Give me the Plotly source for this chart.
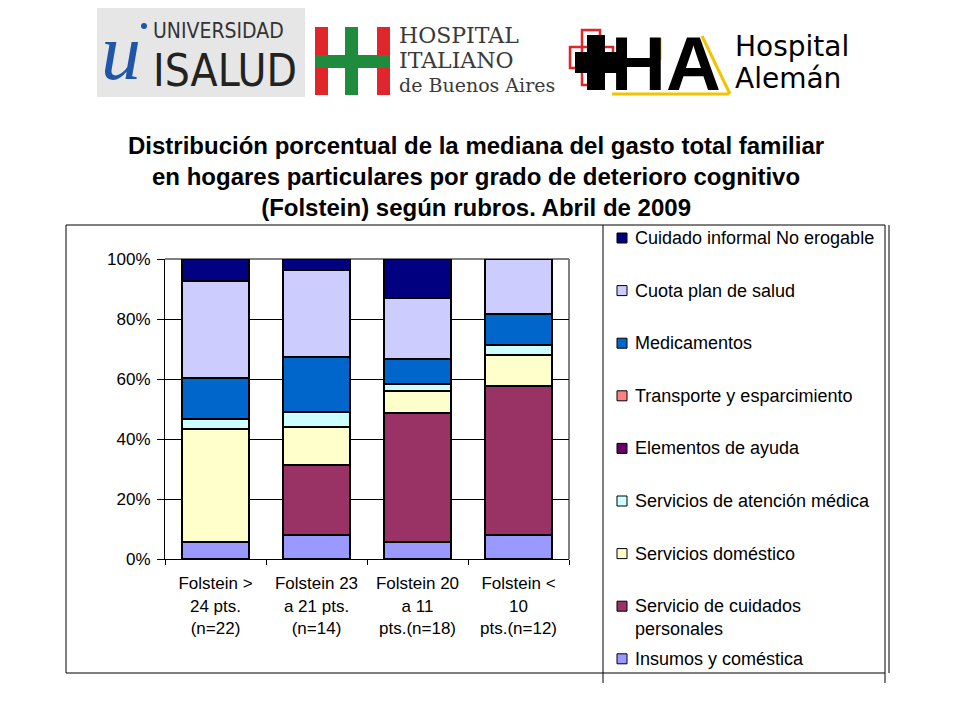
import plotly.graph_objects as go

# ---------------- data ----------------
categories = [
    "Folstein &gt;<br>24 pts.<br>(n=22)",
    "Folstein 23<br>a 21 pts.<br>(n=14)",
    "Folstein 20<br>a 11<br>pts.(n=18)",
    "Folstein &lt;<br>10<br>pts.(n=12)",
]
# stacked bottom -> top
insumos = [5.8, 8.1, 5.8, 8.1]
cuidados_personales = [0.0, 23.3, 43.0, 49.6]
servicios_domestico = [37.5, 12.7, 7.2, 10.3]
atencion_medica = [3.4, 4.8, 2.4, 3.4]
elementos_ayuda = [0.0, 0.0, 0.0, 0.0]
transporte = [0.0, 0.0, 0.0, 0.0]
medicamentos = [13.7, 18.6, 8.4, 10.2]
cuota_plan = [32.4, 28.7, 20.3, 18.4]
cuidado_informal = [7.2, 3.8, 12.9, 0.0]

series_names = [
    "Insumos y coméstica",
    "Servicio de cuidados<br>personales",
    "Servicios doméstico",
    "Servicios de atención médica",
    "Elementos de ayuda",
    "Transporte y esparcimiento",
    "Medicamentos",
    "Cuota plan de salud",
    "Cuidado informal No erogable",
]
series_values = [insumos, cuidados_personales, servicios_domestico, atencion_medica,
                 elementos_ayuda, transporte, medicamentos, cuota_plan, cuidado_informal]
series_colors = ["#9999FF", "#993366", "#FFFFCC", "#CCFFFF", "#660066",
                 "#FF8080", "#0066CC", "#CCCCFF", "#000080"]

y_tick_vals = [0, 20, 40, 60, 80, 100]
y_tick_text = ["0%", "20%", "40%", "60%", "80%", "100%"]

title_text = ("<b>Distribución porcentual de la mediana del gasto total familiar<br>"
              "en hogares particulares por grado de deterioro cognitivo<br>"
              "(Folstein) según rubros. Abril de 2009</b>")

# ---------------- layout helpers ----------------
OFF = 8                      # page body margin
W, H = 960 - OFF, 720 - OFF  # figure size
L, R, T, B = 165, 569, 259, 559   # plot area in window pixels
FONT = "Liberation Sans, Arial, sans-serif"
COND = "DejaVu Sans Condensed, Liberation Sans Narrow, Arial Narrow, sans-serif"
SERIF = "DejaVu Serif, serif"


def px(x):
    return (x - L) / (R - L)


def py(y):
    return (B - y) / (B - T)


fig = go.Figure()
for name, vals, col in zip(series_names, series_values, series_colors):
    fig.add_bar(x=categories, y=vals, name=name.replace("<br>", " "),
                marker=dict(color=col, line=dict(color="black", width=2)),
                showlegend=False)

shapes = []
annotations = []


def rect(x0, y0, x1, y1, fill=None, line=None, lw=0, layer="above"):
    shapes.append(dict(type="rect", xref="paper", yref="paper",
                       x0=px(x0), x1=px(x1), y0=py(y1), y1=py(y0),
                       fillcolor=fill if fill else "rgba(0,0,0,0)",
                       line=dict(color=line if line else "rgba(0,0,0,0)", width=lw),
                       layer=layer))


def seg(x0, y0, x1, y1, color="black", w=1, layer="above"):
    shapes.append(dict(type="line", xref="paper", yref="paper",
                       x0=px(x0), x1=px(x1), y0=py(y0), y1=py(y1),
                       line=dict(color=color, width=w), layer=layer))


def text(x, y, s, size, color="black", family=FONT, xanchor="left", yanchor="middle", align="left"):
    annotations.append(dict(xref="paper", yref="paper", x=px(x), y=py(y), text=s,
                            showarrow=False, xanchor=xanchor, yanchor=yanchor, align=align,
                            font=dict(size=size, color=color, family=family)))


# plot area grey top/right border
seg(L, T, R, T, color="#808080", w=2, layer="between")
seg(R, T, R, B, color="#808080", w=2, layer="between")

# outer chart frame + legend frame
seg(66, 225, 885, 225)
seg(66, 673, 885, 673)
seg(66, 225, 66, 673)
seg(603, 225, 603, 683)
seg(885, 225, 885, 683)
seg(889, 225, 889, 673)

# manual legend (top to bottom)
leg_y0, leg_step, line_h = 238, 52.6, 23.5
for i, idx in enumerate(range(len(series_names) - 1, -1, -1)):
    yc = leg_y0 + i * leg_step
    name = series_names[idx]
    nlines = name.count("<br>") + 1
    rect(617, yc - 5, 627, yc + 5, fill=series_colors[idx], line="black", lw=1)
    text(633, yc + (nlines - 1) * line_h / 2, name, 18)

# title
text(476, 176, title_text, 24, xanchor="center", align="center")

# ---------------- logos (approximate) ----------------
# Universidad ISALUD
rect(97, 8, 305, 97, fill="#E6E6E6")
shapes.append(dict(type="circle", xref="paper", yref="paper",
                   x0=px(141), x1=px(147), y0=py(29), y1=py(23),
                   fillcolor="#1F56A8", line=dict(width=0)))
text(121, 52, "<i>u</i>", 80, color="#1F56A8", family="Liberation Serif, serif", xanchor="center")
text(151, 31, "UNIVERSIDAD", 21, color="#333333", family=COND)
text(151, 70, "ISALUD", 44, color="#222222", family=COND)

# Hospital Italiano
rect(315, 27, 328, 95, fill="#E0262B")
rect(377, 27, 390, 95, fill="#E0262B")
rect(345, 27, 358, 95, fill="#1E8B3D")
rect(315, 55, 390, 68, fill="#1E8B3D")
text(397, 35, "HOSPITAL", 22, color="#3A3A3A", family=SERIF)
text(397, 60, "ITALIANO", 22, color="#3A3A3A", family=SERIF)
text(397, 85, "de Buenos Aires", 19, color="#3A3A3A", family=SERIF)

# Hospital Alemán
rect(570, 47, 613, 68, line="#E0262B", lw=2.5)
rect(582, 30, 600, 85, line="#E0262B", lw=2.5)
seg(612, 94, 729, 94, color="#F2C400", w=3)
seg(702, 36, 730, 94, color="#F2C400", w=3)
seg(660, 38, 660, 60, color="#F2C400", w=3)
rect(575, 52, 618, 73, fill="black")
rect(587, 35, 605, 90, fill="black")
text(609, 63, "<b>HA</b>", 76, color="black", family=FONT)
text(733, 46, "Hospital", 28, color="black", family="DejaVu Sans, sans-serif")
text(733, 79, "Alemán", 28, color="black", family="DejaVu Sans, sans-serif")

fig.update_layout(
    width=W, height=H,
    margin=dict(l=L - OFF, r=W - (R - OFF), t=T - OFF, b=H - (B - OFF), pad=0),
    paper_bgcolor="white", plot_bgcolor="white",
    barmode="stack", bargap=0.33,
    showlegend=False,
    font=dict(family=FONT, size=17, color="black"),
    shapes=shapes, annotations=annotations,
    xaxis=dict(showline=True, linecolor="black", linewidth=1, ticks="outside",
               tickson="boundaries", ticklen=5, tickcolor="black",
               ticklabelstandoff=9,
               showgrid=False, tickfont=dict(size=17, family=FONT, color="black")),
    yaxis=dict(range=[0, 100], tickmode="array", tickvals=y_tick_vals, ticktext=y_tick_text,
               showline=True, linecolor="black", linewidth=1, ticks="outside",
               ticklen=7, tickcolor="black", ticklabelstandoff=3,
               showgrid=True, gridcolor="black",
               gridwidth=1, zeroline=False,
               tickfont=dict(size=17, family=FONT, color="black")),
)

fig.write_html("out.html")
